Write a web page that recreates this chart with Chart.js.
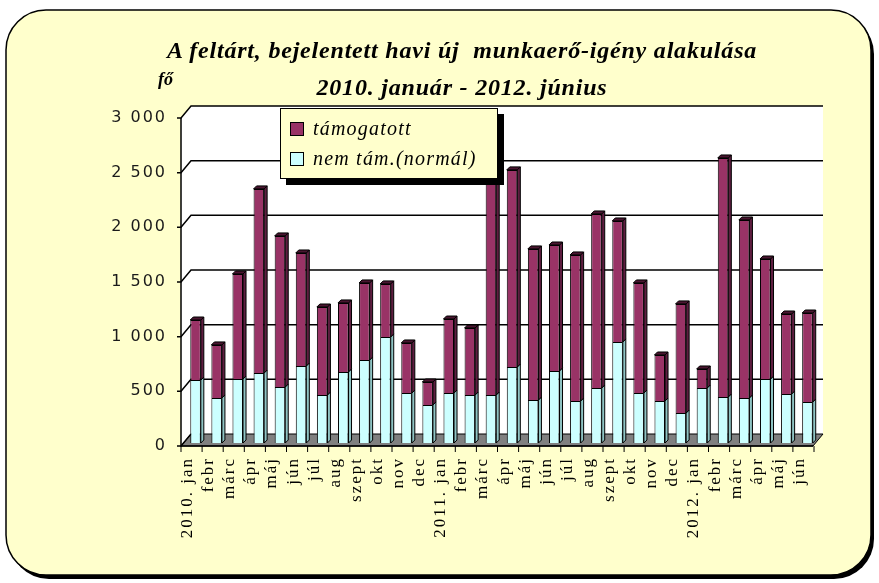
<!DOCTYPE html>
<html>
<head>
<meta charset="utf-8">
<script src="https://cdn.jsdelivr.net/npm/chart.js@4"></script>
<style>
  body { margin: 0; background: #fff; }
  #wrap { position: relative; width: 879px; height: 583px; }
  #wrap canvas { position: absolute; left: 0; top: 0; }
  .title { position: absolute; left: 0; width: 924px; text-align: center; font: italic bold 24px "Liberation Serif"; line-height: 24px; letter-spacing: 0.8px; color: #000; }
  #unit { position: absolute; left: 158px; top: 70px; font: italic bold 18px "Liberation Serif"; line-height: 18px; }
  #legend { position: absolute; left: 280px; top: 108px; width: 218px; height: 71px; box-sizing: border-box; border: 1px solid #000; background: #FFFFCC; box-shadow: 6px 6px 0 #000; }
  #legend .item { position: absolute; left: 9px; height: 22px; white-space: nowrap; font: italic 20px "Liberation Serif"; line-height: 22px; letter-spacing: 1.2px; }
  #legend .box { display: inline-block; width: 12px; height: 12px; border: 1px solid #000; margin-right: 9px; vertical-align: -1px; }
</style>
</head>
<body>
<div id="wrap">
  <canvas id="newChart" width="879" height="583"></canvas>
  <div class="title" style="top:38px">A feltárt, bejelentett havi új&nbsp; munkaerő-igény alakulása</div>
  <div class="title" style="top:75px">2010. január - 2012. június</div>
  <div id="unit">fő</div>
  <div id="legend"></div>
</div>
<script>
var months = ['2010. jan', 'febr', 'márc', 'ápr', 'máj', 'jún', 'júl', 'aug', 'szept', 'okt', 'nov', 'dec',
  '2011. jan', 'febr', 'márc', 'ápr', 'máj', 'jún', 'júl', 'aug', 'szept', 'okt', 'nov', 'dec',
  '2012. jan', 'febr', 'márc', 'ápr', 'máj', 'jún'];
// nem támogatott (normál) munkaerő-igény, fő
var normalData = [576, 412, 585, 640, 512, 704, 439, 650, 759, 970, 457, 348,
  457, 439, 439, 695, 393, 659, 384, 503, 924, 457, 384, 274,
  503, 421, 412, 585, 448, 375];
// támogatott munkaerő-igény, fő
var supportedData = [549, 485, 961, 1684, 1382, 1034, 805, 631, 705, 485, 458, 210,
  677, 613, 2011, 1803, 1382, 1152, 1336, 1592, 1107, 1007, 421, 998,
  174, 2186, 1628, 1098, 732, 814];
var yTicks = [0, 500, 1000, 1500, 2000, 2500, 3000];

var sideColors = ['#8fc4c4', '#5e1e40'];

function roundRect(ctx, x, y, w, h, r) {
  ctx.beginPath();
  ctx.moveTo(x + r, y);
  ctx.arcTo(x + w, y, x + w, y + h, r);
  ctx.arcTo(x + w, y + h, x, y + h, r);
  ctx.arcTo(x, y + h, x, y, r);
  ctx.arcTo(x, y, x + w, y, r);
  ctx.closePath();
}

var decoPlugin = {
  id: 'deco',
  beforeDraw: function(chart) {
    var ctx = chart.ctx;
    ctx.save();
    // frame with shadow
    roundRect(ctx, 9, 14, 865, 565, 40);
    ctx.fillStyle = '#000';
    ctx.fill();
    roundRect(ctx, 6, 10, 865, 565, 40);
    ctx.fillStyle = '#FFFFCC';
    ctx.fill();
    ctx.lineWidth = 1.5;
    ctx.strokeStyle = '#000';
    ctx.stroke();
    ctx.restore();
    ctx.letterSpacing = '2px';
  },
  beforeDatasetsDraw: function(chart) {
    var ctx = chart.ctx, ys = chart.scales.y, area = chart.chartArea;
    var fl = area.left - 4, bl = area.left + 6, br = area.right + 5, fr = area.right - 5;
    var y0 = ys.getPixelForValue(0), yTop = ys.getPixelForValue(3000);
    ctx.save();
    ctx.letterSpacing = '0px';
    // back wall + side wall
    ctx.fillStyle = '#fff';
    ctx.fillRect(bl, yTop - 9, br - bl, y0 - yTop);
    ctx.beginPath();
    ctx.moveTo(fl, yTop + 3); ctx.lineTo(bl, yTop - 9); ctx.lineTo(bl, y0 - 9); ctx.lineTo(fl, y0 + 3);
    ctx.closePath(); ctx.fill();
    // floor
    ctx.beginPath();
    ctx.moveTo(fl, y0 + 3); ctx.lineTo(bl, y0 - 9); ctx.lineTo(br, y0 - 9); ctx.lineTo(fr, y0 + 3);
    ctx.closePath();
    ctx.fillStyle = '#808080'; ctx.fill();
    ctx.lineWidth = 1; ctx.strokeStyle = '#000'; ctx.stroke();
    // gridlines on the back wall with connectors
    ctx.lineWidth = 1.5;
    yTicks.forEach(function(v) {
      var y = ys.getPixelForValue(v);
      ctx.beginPath();
      ctx.moveTo(fl - 4, y + 3); ctx.lineTo(fl, y + 3); ctx.lineTo(bl, y - 9);
      if (v > 0) ctx.lineTo(br, y - 9);
      ctx.stroke();
    });
    // front axes
    ctx.beginPath();
    ctx.moveTo(fl, yTop + 3); ctx.lineTo(fl, y0 + 3); ctx.lineTo(fr, y0 + 3);
    ctx.stroke();
    var step = (area.right - area.left) / months.length;
    ctx.lineWidth = 1;
    for (var i = 0; i <= months.length; i++) {
      var x = fl + i * step;
      ctx.beginPath(); ctx.moveTo(x, y0 + 3); ctx.lineTo(x, y0 + 9); ctx.stroke();
    }
    ctx.restore();
  },
  afterDatasetsDraw: function(chart) {
    var ctx = chart.ctx, d = 3;
    ctx.save();
    ctx.strokeStyle = '#000';
    ctx.lineWidth = 1;
    chart.data.datasets.forEach(function(ds, di) {
      var meta = chart.getDatasetMeta(di);
      meta.data.forEach(function(bar) {
        var p = bar.getProps(['x', 'y', 'base', 'width'], true);
        var l = p.x - p.width / 2, r = p.x + p.width / 2;
        ctx.beginPath();
        ctx.moveTo(r, p.y); ctx.lineTo(r + d, p.y - d); ctx.lineTo(r + d, p.base - d); ctx.lineTo(r, p.base);
        ctx.closePath();
        ctx.fillStyle = sideColors[di]; ctx.fill(); ctx.stroke();
        if (di === chart.data.datasets.length - 1) {
          ctx.beginPath();
          ctx.moveTo(l, p.y); ctx.lineTo(l + d, p.y - d); ctx.lineTo(r + d, p.y - d); ctx.lineTo(r, p.y);
          ctx.closePath();
          ctx.fillStyle = '#4a1530'; ctx.fill(); ctx.stroke();
        }
      });
    });
    ctx.restore();
  }
};

var ctx = document.getElementById('newChart');
var myChart = new Chart(ctx, {
  type: 'bar',
  data: {
    labels: months,
    datasets: [{
      label: 'nem tám.(normál)',
      data: normalData,
      backgroundColor: '#CCFFFF',
      borderColor: '#000',
      borderWidth: 1,
      barPercentage: 0.5,
      categoryPercentage: 1
    }, {
      label: 'támogatott',
      data: supportedData,
      backgroundColor: '#993366',
      borderColor: '#000',
      borderWidth: 1,
      barPercentage: 0.5,
      categoryPercentage: 1
    }]
  },
  options: {
    // fixed size, otherwise it follows the window
    responsive: false,
    devicePixelRatio: 1,
    animation: false,
    layout: { padding: { left: 95, right: 61, top: 115, bottom: 20 } },
    plugins: { legend: { display: false }, title: { display: false }, tooltip: { enabled: false } },
    scales: {
      x: {
        stacked: true,
        grid: { display: false },
        border: { display: false },
        afterFit: function(scale) { scale.height = 120; },
        ticks: {
          autoSkip: false,
          minRotation: 90,
          maxRotation: 90,
          padding: 6,
          labelOffset: -8,
          color: '#000',
          font: { family: 'Liberation Serif', size: 17 }
        }
      },
      y: {
        stacked: true,
        min: 0,
        max: 3000,
        grid: { display: false },
        border: { display: false },
        afterFit: function(scale) { scale.width = 90; },
        ticks: {
          stepSize: 500,
          padding: 10,
          labelOffset: 3,
          color: '#1a1a1a',
          font: { family: 'DejaVu Sans', size: 16 },
          callback: function(v) { return v >= 1000 ? Math.floor(v / 1000) + ' ' + String(v % 1000).padStart(3, '0') : String(v); }
        }
      }
    }
  },
  plugins: [decoPlugin]
});

// legend built from the datasets, top series first
var legend = document.getElementById('legend');
myChart.data.datasets.slice().reverse().forEach(function(ds, i) {
  var item = document.createElement('div');
  item.className = 'item';
  item.style.top = (8 + i * 30) + 'px';
  item.innerHTML = '<span class="box" style="background:' + ds.backgroundColor + '"></span>' + ds.label;
  legend.appendChild(item);
});
</script>
</body>
</html>
